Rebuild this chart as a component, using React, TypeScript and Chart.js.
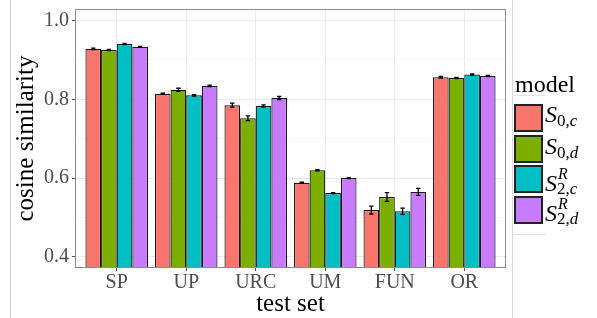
import React, { useEffect, useRef } from 'react';
import { Chart, registerables } from 'chart.js';

Chart.register(...registerables);

// ---- data ----
const categories = ['SP', 'UP', 'URC', 'UM', 'FUN', 'OR'];

const s0c = [0.928, 0.814, 0.785, 0.588, 0.519, 0.856];
const s0d = [0.925, 0.824, 0.752, 0.620, 0.552, 0.854];
const s2c = [0.940, 0.810, 0.783, 0.562, 0.516, 0.863];
const s2d = [0.933, 0.834, 0.803, 0.600, 0.565, 0.859];

const s0cErr = [0.002, 0.0015, 0.005, 0.0015, 0.010, 0.002];
const s0dErr = [0.0015, 0.004, 0.006, 0.0015, 0.011, 0.0015];
const s2cErr = [0.0015, 0.002, 0.003, 0.001, 0.008, 0.0015];
const s2dErr = [0.001, 0.002, 0.004, 0.0015, 0.009, 0.0015];

const seriesValues = [s0c, s0d, s2c, s2d];
const seriesErrors = [s0cErr, s0dErr, s2cErr, s2dErr];
const seriesColors = ['#F8766D', '#7CAE00', '#00BFC4', '#C77CFF'];

// legend label parts: S^{sup}_{index,var}
const legendSup = ['', '', 'R', 'R'];
const legendIndex = ['0', '0', '2', '2'];
const legendVar = ['c', 'd', 'c', 'd'];

const yMajorTicks = [0.4, 0.6, 0.8, 1.0];
const yMinorTicks = [0.5, 0.7, 0.9];
const yMin = 0.372;
const yMax = 1.029;

const xTitle = 'test set';
const yTitle = 'cosine similarity';
const legendTitle = 'model';

const SERIF = '"Liberation Serif", "Times New Roman", serif';

const isMajor = (v: number) => yMajorTicks.some((m) => Math.abs(m - v) < 1e-6);

const errorBarPlugin = {
  id: 'errorBars',
  afterDatasetsDraw(chart: any) {
    const { ctx } = chart;
    const y = chart.scales.y;
    ctx.save();
    ctx.strokeStyle = '#000';
    ctx.lineWidth = 1.3;
    chart.data.datasets.forEach((_: any, di: number) => {
      const meta = chart.getDatasetMeta(di);
      meta.data.forEach((bar: any, i: number) => {
        const v = seriesValues[di][i];
        const e = seriesErrors[di][i];
        const yt = y.getPixelForValue(v + e);
        const yb = y.getPixelForValue(v - e);
        const x = bar.x;
        const w = 2.2;
        ctx.beginPath();
        ctx.moveTo(x, yt);
        ctx.lineTo(x, yb);
        ctx.moveTo(x - w, yt);
        ctx.lineTo(x + w, yt);
        ctx.moveTo(x - w, yb);
        ctx.lineTo(x + w, yb);
        ctx.stroke();
      });
    });
    ctx.restore();
  },
};

const panelBorderPlugin = {
  id: 'panelBorder',
  afterDraw(chart: any) {
    const { ctx, chartArea } = chart;
    ctx.save();
    ctx.strokeStyle = '#8c8c8c';
    ctx.lineWidth = 1;
    ctx.strokeRect(
      Math.round(chartArea.left) + 0.5,
      Math.round(chartArea.top) + 0.5,
      Math.round(chartArea.right - chartArea.left) - 1,
      Math.round(chartArea.bottom - chartArea.top) - 1
    );
    ctx.restore();
  },
};

function LegendLabel({ idx, top }: { idx: number; top: number }) {
  const sup = legendSup[idx];
  return (
    <div
      style={{
        position: 'absolute',
        left: 545,
        top,
        fontFamily: SERIF,
        fontSize: 24,
        lineHeight: '24px',
        whiteSpace: 'nowrap',
        color: '#000',
      }}
    >
      <i>S</i>
      <span style={{ position: 'relative', display: 'inline-block' }}>
        {sup ? (
          <span
            style={{
              position: 'absolute',
              left: 1,
              top: -5,
              fontSize: 16,
              fontStyle: 'italic',
              lineHeight: '16px',
            }}
          >
            {sup}
          </span>
        ) : null}
        <span
          style={{
            position: 'relative',
            top: sup ? 3 : 4,
            fontSize: 17,
            marginLeft: 0,
          }}
        >
          {legendIndex[idx]},<i>{legendVar[idx]}</i>
        </span>
      </span>
    </div>
  );
}

export default function App() {
  const canvasRef = useRef<HTMLCanvasElement | null>(null);

  useEffect(() => {
    const canvas = canvasRef.current;
    if (!canvas) return;
    const chart = new Chart(canvas, {
      type: 'bar',
      data: {
        datasets: seriesValues.map((vals, di) => ({
          label: `${legendIndex[di]}${legendVar[di]}${legendSup[di]}`,
          data: vals.map((v, i) => ({ x: i + 1, y: v })),
          backgroundColor: seriesColors[di],
          borderColor: '#1a1a1a',
          borderWidth: 1.2,
          categoryPercentage: 0.9,
          barPercentage: 1.0,
        })),
      },
      options: {
        animation: false,
        responsive: false,
        devicePixelRatio: 1,
        layout: { padding: { left: 0, top: 9, right: 91, bottom: 0 } },
        plugins: {
          legend: { display: false },
          tooltip: { enabled: false },
        },
        scales: {
          x: {
            type: 'linear',
            min: 0.4,
            max: 6.6,
            offset: false,
            afterBuildTicks: (s: any) => {
              s.ticks = categories.map((_, i) => ({ value: i + 1 }));
            },
            afterFit: (s: any) => {
              s.height = 50;
              s.paddingLeft = 0;
              s.paddingRight = 0;
            },
            ticks: {
              callback: (v: any) => categories[Math.round(Number(v)) - 1] ?? '',
              font: { family: SERIF, size: 20 },
              color: '#4D4D4D',
              padding: 0,
              maxRotation: 0,
              autoSkip: false,
            },
            grid: {
              offset: false,
              color: '#EBEBEB',
              tickColor: '#555',
              tickLength: 3,
              lineWidth: 1,
            },
            border: { display: false },
            title: {
              display: true,
              text: xTitle,
              color: '#000',
              font: { family: SERIF, size: 25, lineHeight: 1 },
              padding: { top: 0, bottom: 1 },
            },
          },
          y: {
            type: 'linear',
            min: yMin,
            max: yMax,
            afterBuildTicks: (s: any) => {
              s.ticks = [...yMajorTicks, ...yMinorTicks]
                .sort((a, b) => a - b)
                .map((v) => ({ value: v }));
            },
            afterFit: (s: any) => {
              s.width = 75;
              s.paddingTop = 0;
              s.paddingBottom = 0;
            },
            ticks: {
              callback: (v: any) => (isMajor(Number(v)) ? Number(v).toFixed(1) : ''),
              font: { family: SERIF, size: 20 },
              color: '#4D4D4D',
              padding: 3,
            },
            grid: {
              color: (ctx: any) => (isMajor(ctx.tick?.value ?? 0) ? '#EBEBEB' : '#F5F5F5'),
              tickColor: (ctx: any) => (isMajor(ctx.tick?.value ?? 0) ? '#555' : 'rgba(0,0,0,0)'),
              tickLength: 3,
              lineWidth: 1,
            },
            border: { display: false },
            title: {
              display: true,
              text: yTitle,
              color: '#000',
              font: { family: SERIF, size: 25, lineHeight: 1 },
              padding: { top: 14, bottom: 0 },
            },
          },
        },
      } as any,
      plugins: [errorBarPlugin, panelBorderPlugin],
    });
    return () => chart.destroy();
  }, []);

  const keyTops = [104, 134.5, 165, 195.5];
  const labelTops = [102, 133.5, 171, 201];

  return (
    <div
      style={{
        position: 'fixed',
        left: 0,
        top: 0,
        width: 597,
        height: 318,
        background: '#fff',
        overflow: 'hidden',
      }}
    >
      <canvas
        ref={canvasRef}
        width={597}
        height={318}
        style={{ position: 'absolute', left: 0, top: 0, width: 597, height: 318 }}
      />
      {/* figure frame lines */}
      <div style={{ position: 'absolute', left: 10, top: 0, width: 1, height: 318, background: '#d0d0d0' }} />
      <div style={{ position: 'absolute', left: 512, top: 0, width: 1, height: 318, background: '#d9d9d9' }} />
      {/* legend */}
      <div
        style={{
          position: 'absolute',
          left: 515,
          top: 71.5,
          fontFamily: SERIF,
          fontSize: 24,
          lineHeight: '24px',
          color: '#000',
          whiteSpace: 'nowrap',
        }}
      >
        {legendTitle}
      </div>
      <div style={{ position: 'absolute', left: 514, top: 95, width: 32, height: 1, background: '#e0e0e0' }} />
      {seriesColors.map((c, i) => (
        <div
          key={`k${i}`}
          style={{
            position: 'absolute',
            left: 514,
            top: keyTops[i],
            width: 29,
            height: 28,
            boxSizing: 'border-box',
            border: '2px solid #222',
            background: c,
          }}
        />
      ))}
      {seriesColors.map((_, i) => (
        <LegendLabel key={`l${i}`} idx={i} top={labelTops[i]} />
      ))}
      <div style={{ position: 'absolute', left: 514, top: 234, width: 32, height: 1, background: '#e0e0e0' }} />
    </div>
  );
}
